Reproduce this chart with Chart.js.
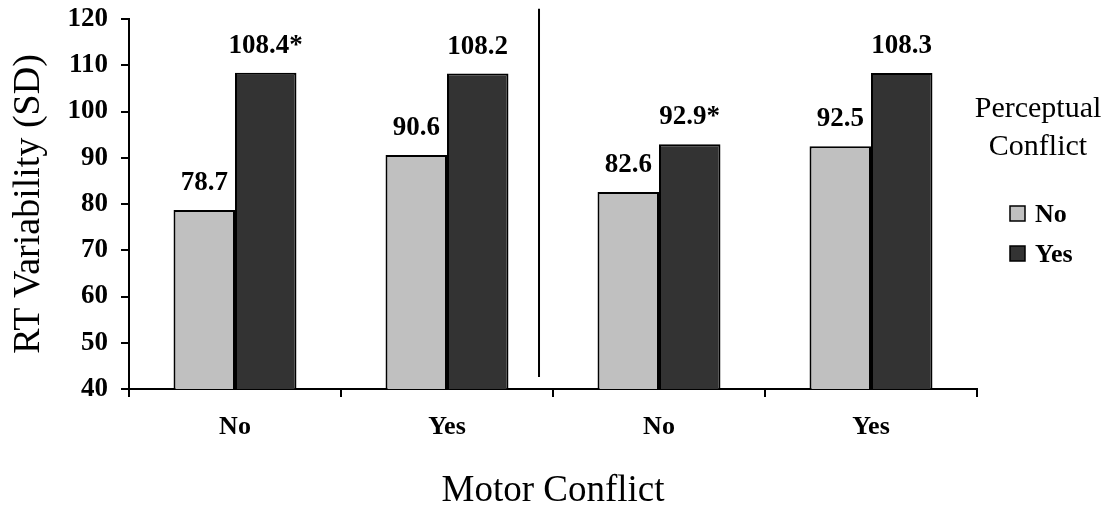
<!DOCTYPE html>
<html>
<head>
<meta charset="utf-8">
<title>RT Variability by Motor and Perceptual Conflict</title>
<script src="https://cdn.jsdelivr.net/npm/chart.js@4.4.1/dist/chart.umd.min.js"></script>
<style>
  html, body { margin: 0; padding: 0; background: #ffffff; }
  #wrap { width: 1110px; height: 519px; }
</style>
</head>
<body>
<div id="wrap"><canvas id="chart" width="1110" height="519"></canvas></div>
<script>
// Motor conflict conditions (x axis), two blocks of No / Yes
const categories = ['No', 'Yes', 'No', 'Yes'];

// Perceptual conflict series: mean RT standard deviation
const perceptualNo  = [78.7, 90.6, 82.6, 92.5];
const perceptualYes = [108.4, 108.2, 92.9, 108.3];

// Significance markers appended to the value labels
const significantNo  = [false, false, false, false];
const significantYes = [true, false, true, false];

// Y axis range and step
const yMin = 40, yMax = 120, yStep = 10;

// Separator between the two blocks (category units / value units)
const dividerAt = 1.434;
const dividerTop = 122.2, dividerBottom = 42.6;

const serif = "'Liberation Serif', 'Times New Roman', Times, serif";
const lightGray = '#C0C0C0';
const darkGray = '#333333';

const valueLabels = {
  id: 'valueLabels',
  afterDatasetsDraw(chart) {
    const ctx = chart.ctx;
    ctx.save();
    ctx.font = 'bold 27px ' + serif;
    ctx.fillStyle = '#000';
    ctx.textAlign = 'center';
    ctx.textBaseline = 'alphabetic';
    chart.data.datasets.forEach((ds, di) => {
      const meta = chart.getDatasetMeta(di);
      meta.data.forEach((bar, i) => {
        const txt = ds.data[i].toFixed(1) + (ds.stars[i] ? '*' : '');
        ctx.fillText(txt, bar.x, bar.y - 20);
      });
    });
    ctx.restore();
  }
};

const divider = {
  id: 'divider',
  afterDatasetsDraw(chart) {
    const x = chart.scales.x.getPixelForValue(dividerAt);
    const y1 = chart.scales.y.getPixelForValue(dividerTop);
    const y2 = chart.scales.y.getPixelForValue(dividerBottom);
    const ctx = chart.ctx;
    ctx.save();
    ctx.strokeStyle = '#000';
    ctx.lineWidth = 2;
    ctx.beginPath();
    ctx.moveTo(x, y1);
    ctx.lineTo(x, y2);
    ctx.stroke();
    ctx.restore();
  }
};

const sideLegend = {
  id: 'sideLegend',
  afterDraw(chart) {
    const ctx = chart.ctx;
    const cx = 1038;
    ctx.save();
    ctx.fillStyle = '#000';
    ctx.textBaseline = 'alphabetic';
    ctx.textAlign = 'center';
    ctx.font = '30px ' + serif;
    ctx.fillText('Perceptual', cx, 117);
    ctx.fillText('Conflict', cx, 155);
    ctx.font = 'bold 26px ' + serif;
    ctx.textAlign = 'left';
    const rows = [222, 262];
    chart.data.datasets.forEach((ds, i) => {
      const base = rows[i];
      ctx.fillStyle = ds.backgroundColor;
      ctx.fillRect(1010, base - 16, 15, 15);
      ctx.strokeStyle = '#000';
      ctx.lineWidth = 1.5;
      ctx.strokeRect(1010, base - 16, 15, 15);
      ctx.fillStyle = '#000';
      ctx.fillText(ds.label, 1035, base);
    });
    ctx.restore();
  }
};

new Chart(document.getElementById('chart'), {
  type: 'bar',
  data: {
    labels: categories,
    datasets: [
      {
        label: 'No',
        data: perceptualNo,
        stars: significantNo,
        backgroundColor: lightGray,
        borderColor: '#000',
        borderWidth: 2,
        categoryPercentage: 0.58,
        barPercentage: 1.0
      },
      {
        label: 'Yes',
        data: perceptualYes,
        stars: significantYes,
        backgroundColor: darkGray,
        borderColor: '#000',
        borderWidth: 2,
        categoryPercentage: 0.58,
        barPercentage: 1.0
      }
    ]
  },
  options: {
    responsive: false,
    animation: false,
    layout: { padding: { left: 0, right: 133, top: 19, bottom: 0 } },
    plugins: {
      legend: { display: false },
      tooltip: { enabled: false }
    },
    scales: {
      x: {
        afterFit(scale) { scale.height = 130; scale.paddingLeft = 0; scale.paddingRight = 0; },
        grid: {
          offset: true,
          drawOnChartArea: false,
          drawTicks: true,
          tickLength: 8,
          color: '#000',
          lineWidth: 2
        },
        border: { display: true, color: '#000', width: 2 },
        ticks: {
          color: '#000',
          padding: 15,
          font: { family: serif, size: 26, weight: 'bold' }
        },
        title: {
          display: true,
          text: 'Motor Conflict',
          color: '#000',
          padding: { top: 4, bottom: 6 },
          font: { family: serif, size: 37, weight: 'normal' }
        }
      },
      y: {
        min: yMin,
        max: yMax,
        afterFit(scale) { scale.width = 129; scale.paddingTop = 0; scale.paddingBottom = 0; },
        grid: {
          drawOnChartArea: false,
          drawTicks: true,
          tickLength: 8,
          color: '#000',
          lineWidth: 2
        },
        border: { display: true, color: '#000', width: 2 },
        ticks: {
          stepSize: yStep,
          color: '#000',
          padding: 13,
          font: { family: serif, size: 27, weight: 'bold' }
        },
        title: {
          display: true,
          text: 'RT Variability (SD)',
          color: '#000',
          padding: { top: 6, bottom: 4 },
          font: { family: serif, size: 38, weight: 'normal' }
        }
      }
    }
  },
  plugins: [valueLabels, divider, sideLegend]
});
</script>
</body>
</html>
